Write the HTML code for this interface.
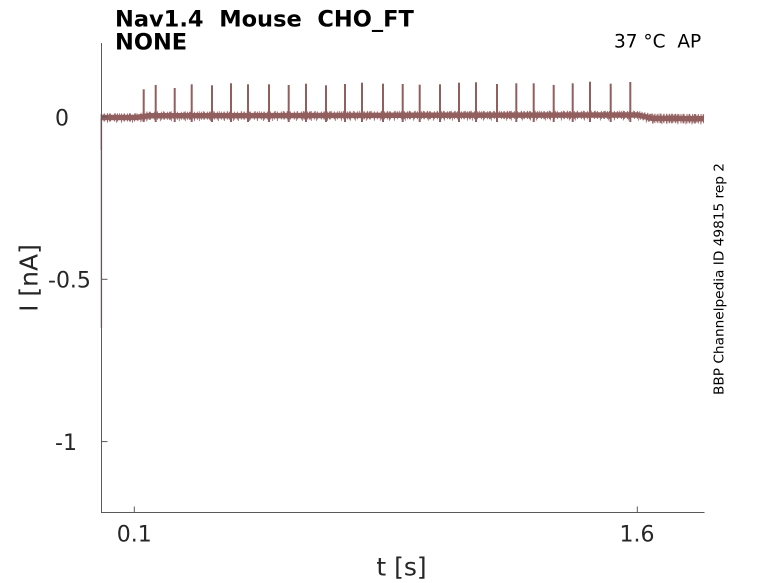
<!DOCTYPE html>
<html>
<head>
<meta charset="utf-8">
<style>
  html, body { margin: 0; padding: 0; background: #ffffff; }
  body { width: 778px; height: 583px; overflow: hidden; }
  svg { display: block; }
  text { font-family: "DejaVu Sans", "Liberation Sans", sans-serif; fill: #262626; }
</style>
</head>
<body>
<svg width="778" height="583" viewBox="0 0 778 583" xmlns="http://www.w3.org/2000/svg">
  <rect x="0" y="0" width="778" height="583" fill="#ffffff"/>

  <!-- Title -->
  <text x="115" y="26.5" font-size="22.5" font-weight="bold" style="fill:#000" xml:space="preserve">Nav1.4  Mouse  CHO_FT</text>
  <text x="115" y="49.5" font-size="22.5" font-weight="bold" style="fill:#000">NONE</text>

  <!-- Top-right annotation -->
  <text x="614" y="47.3" font-size="18.5" style="fill:#000" xml:space="preserve">37 °C  AP</text>

  <!-- Right vertical annotation -->
  <text transform="translate(723.5,395) rotate(-90)" x="0" y="0" font-size="13.2" style="fill:#000" textLength="232" lengthAdjust="spacingAndGlyphs">BBP Channelpedia ID 49815 rep 2</text>

  <!-- Initial transient -->
  <line x1="101.3" y1="118" x2="101.3" y2="328" stroke="#976262" stroke-width="1.8" stroke-opacity="0.45"/>
  <line x1="101.3" y1="114" x2="101.3" y2="150" stroke="#976262" stroke-width="1.5" stroke-opacity="0.8"/>

  <!-- Baseline trace (noisy band) -->
  <g fill="none" stroke="#935e5e" stroke-linejoin="round">
    <path d="M101 117.5 L136 117.5 L148 115.8 L400 115.3 L638 115 L652 118.3 L704 118.8" stroke-width="5.5"/>
    <path d="M101 117.5 L136 117.5 L148 115.8 L400 115.3 L638 115 L652 118.3 L704 118.8" stroke-width="8" stroke-dasharray="1 1.5 1.5 2 1 1 2 3 1 2 1 3" stroke-opacity="0.9"/>
    <path d="M101 118.8 L136 118.8 L148 117.2 L400 116.7 L638 116.4 L652 120 L704 120.5" stroke-width="8" stroke-dasharray="1 5 1 8 1 4 1 10 1 7" stroke-opacity="0.8"/>
    <path d="M101 116.3 L136 116.3 L148 114.3 L400 113.8 L638 113.6 L652 116.8 L704 117.3" stroke-width="6" stroke-dasharray="1 5 1 7 1 3 1 9" stroke-opacity="0.75"/>
    <path d="M652 118.3 L704 118.8" stroke-width="9.5" stroke-dasharray="1 1.5 1 2 1 1 2 2" stroke-opacity="0.85"/>
  </g>

  <!-- Spikes -->
  <g stroke="#935e5e" stroke-width="2" fill="none">
    <path d="M143.7 122 V89.3"/>
    <path d="M155.7 122 V85"/>
    <path d="M174.7 122 V88"/>
    <path d="M191.7 122 V84.3"/>
    <path d="M212 122 V85.3"/>
    <path d="M231 122 V83.3"/>
    <path d="M248 122 V84.3"/>
    <path d="M269 122 V84.3"/>
    <path d="M288.7 122 V85"/>
    <path d="M306 122 V83.7"/>
    <path d="M326 122 V85.3"/>
    <path d="M345 122 V84"/>
    <path d="M362 122 V82.7"/>
    <path d="M383 122 V83.7"/>
    <path d="M402.7 122 V84"/>
    <path d="M419.7 122 V84.7"/>
    <path d="M440 122 V84.3"/>
    <path d="M459 122 V82.7"/>
    <path d="M476 122 V82.3"/>
    <path d="M497 122 V84"/>
    <path d="M516.3 122 V83.3"/>
    <path d="M533.7 122 V83.3"/>
    <path d="M553.7 122 V85"/>
    <path d="M572.7 122 V83.3"/>
    <path d="M590 122 V81.7"/>
    <path d="M610.7 122 V83.7"/>
    <path d="M630.3 122 V82"/>
  </g>

  <!-- Axes -->
  <g stroke="#5a5a5a" stroke-width="1" fill="none">
    <line x1="101.5" y1="43" x2="101.5" y2="512.5"/>
    <line x1="101" y1="512.5" x2="704.5" y2="512.5"/>
    <line x1="134.3" y1="506.5" x2="134.3" y2="512.5"/>
    <line x1="637.3" y1="506.5" x2="637.3" y2="512.5"/>
    <line x1="101.5" y1="116.7" x2="107.5" y2="116.7"/>
    <line x1="101.5" y1="279.3" x2="107.5" y2="279.3"/>
    <line x1="101.5" y1="441.6" x2="107.5" y2="441.6"/>
  </g>

  <!-- Tick labels -->
  <text x="134.3" y="541.7" font-size="22" text-anchor="middle">0.1</text>
  <text x="637" y="541.7" font-size="22" text-anchor="middle">1.6</text>
  <text x="55" y="125.3" font-size="22">0</text>
  <text x="48" y="287.5" font-size="22">-0.5</text>
  <text x="55" y="449.8" font-size="22">-1</text>

  <!-- Axis labels -->
  <text x="401.5" y="575.5" font-size="25" text-anchor="middle">t [s]</text>
  <text transform="translate(37.5,278) rotate(-90)" x="0" y="0" font-size="25" text-anchor="middle">I [nA]</text>
</svg>
</body>
</html>
